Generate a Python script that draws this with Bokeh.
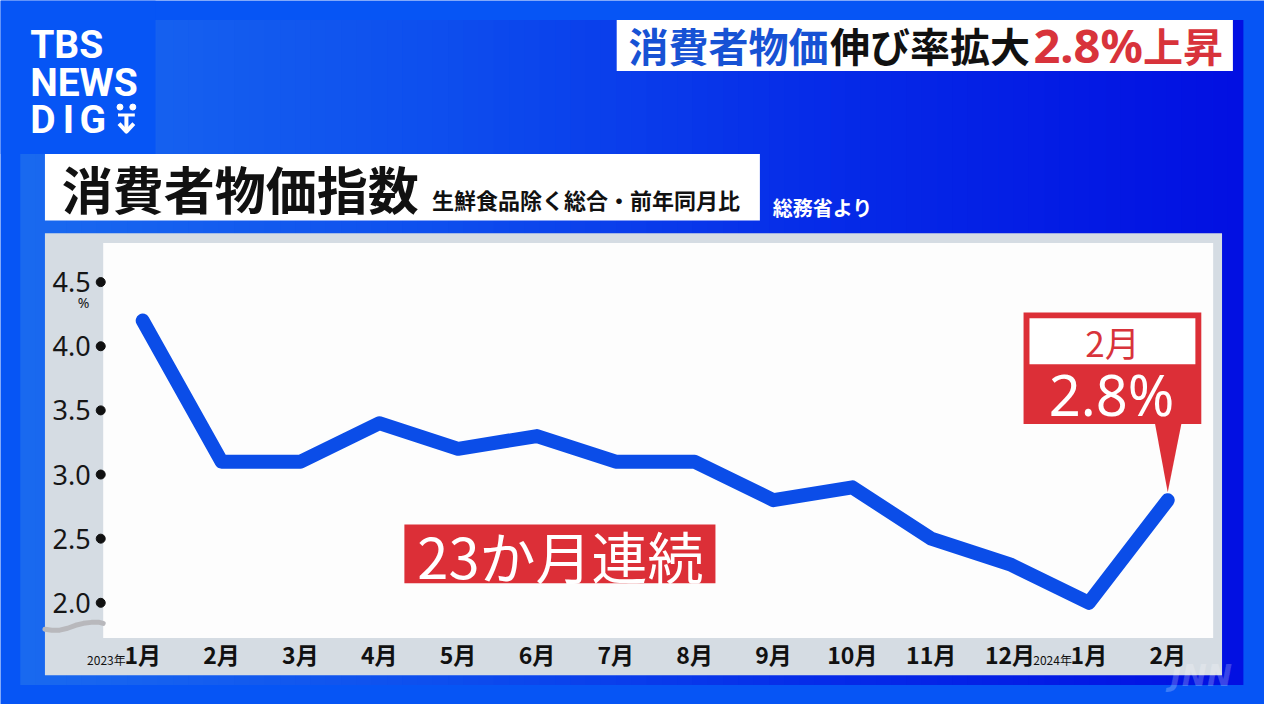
import numpy as np
from bokeh.plotting import figure
from bokeh.models import Range1d, LinearAxis, FixedTicker
from bokeh.core.properties import value
from bokeh.embed import file_html
from bokeh.resources import INLINE

# ---------------- data ----------------
months = ["1月", "2月", "3月", "4月", "5月", "6月", "7月", "8月", "9月",
          "10月", "11月", "12月", "1月", "2月"]
year_prefix_idx = [0, 12]
year_prefix_txt = ["2023年", "2024年"]
cpi = [4.2, 3.1, 3.1, 3.4, 3.2, 3.3, 3.1, 3.1, 2.8, 2.9, 2.5, 2.3, 2.0, 2.8]
y_ticks = [2.0, 2.5, 3.0, 3.5, 4.0, 4.5]
y_tick_labels = ["2.0", "2.5", "3.0", "3.5", "4.0", "4.5"]
headline_blue = "消費者物価"
headline_black = "伸び率拡大"
headline_red_num = "2.8%"
headline_red_txt = "上昇"
chart_title = "消費者物価指数"
chart_subtitle = "生鮮食品除く総合・前年同月比"
source_note = "総務省より"
streak_note = "23か月連続"

# ---------------- pixel <-> data mapping (reference picture coords) ----------------
X0, DX = 144.0, 79.846   # pixel of first month, pixels per month
Y0, DY = 616.0, 131.2    # pixel of value 2.0, pixels per 1.0 pt


def px(X):
    return (X - X0) / DX


def py(Y):
    return 2.0 + (Y0 - Y) / DY


OUTER = "#0655f5"
p = figure(width=1264, height=704,
           x_range=Range1d(px(0), px(1280)), y_range=Range1d(py(720), py(0)),
           output_backend="svg", toolbar_location=None,
           x_axis_location=None, y_axis_location=None,
           min_border=0, outline_line_color=None,
           background_fill_color=OUTER, border_fill_color=OUTER)
for g in p.grid:
    g.visible = False


def box(x1, x2, y1, y2, color, alpha=1.0):
    p.quad(left=px(x1), right=px(x2), top=py(y1), bottom=py(y2),
           fill_color=color, fill_alpha=alpha, line_color=None)


def txt(X, Y, s, size, color, font="Noto Sans CJK JP", style="normal",
        align="left", baseline="middle", alpha=1.0):
    p.text(x=[px(X)], y=[py(Y)], text=[s], text_font=value(font),
           text_font_size=f"{size}px", text_font_style=style,
           text_color=color, text_align=align, text_baseline=baseline,
           text_alpha=alpha)


# ---------------- background panel with horizontal gradient ----------------
n = 80
edges = np.linspace(20, 1258, n + 1)
mids = (edges[:-1] + edges[1:]) / 2
sx = [20, 450, 850, 1258]
cols = []
for m in mids:
    r = np.interp(m, sx, [26, 14, 6, 2])
    gg = np.interp(m, sx, [106, 78, 42, 16])
    b = np.interp(m, sx, [240, 238, 232, 226])
    cols.append("#%02x%02x%02x" % (int(r), int(gg), int(b)))
p.quad(left=[px(e) for e in edges[:-1]], right=[px(e + 0.6) for e in edges[1:]],
       top=py(20), bottom=py(700), fill_color=cols, line_color=None)

# logo block
box(0, 157, 0, 157, OUTER)
LOGO = "Roboto"
txt(30, 46, "TBS", 39, "white", font=LOGO, style="bold")
txt(30, 84, "NEWS", 39, "white", font=LOGO, style="bold")
txt(30, 122, "D", 39, "white", font=LOGO, style="bold")
txt(63, 122, "I", 39, "white", font=LOGO, style="bold")
txt(80, 122, "G", 39, "white", font=LOGO, style="bold")
p.scatter(x=[px(121), px(134)], y=[py(109), py(109)], size=6, color="white")
p.line(x=[px(119), px(136)], y=[py(117), py(117)], line_width=3, line_color="white")
p.line(x=[px(127.5), px(127.5)], y=[py(117), py(134)], line_width=4, line_color="white")
p.line(x=[px(120), px(127.5), px(135)], y=[py(126), py(134), py(126)],
       line_width=4, line_color="white", line_join="round")

# headline box
box(624, 1248, 20, 72, "white")
txt(636, 46, headline_blue, 40, "#1752d4", style="bold")
txt(840, 46, headline_black, 40, "#111111", style="bold")
txt(1046, 46, headline_red_num, 47, "#d8333b", font="Noto Sans", style="bold")
txt(1157, 46, headline_red_txt, 40, "#d8333b", style="bold")

# chart title box
box(45, 769, 157, 225, "white")
txt(62, 192, chart_title, 51, "#111111", style="bold")
txt(437, 203, chart_subtitle, 22, "#111111", style="bold")
txt(782, 212, source_note, 20, "white", style="bold")

# chart panel
box(45, 1237, 238, 690, "#d5dce3")
box(104, 1228, 248, 652, "#fdfdfd")
p.line(x=[px(v) for v in [45, 52, 60, 68, 76, 84, 92, 100, 104]],
       y=[py(v) for v in [643, 644, 644, 642, 639, 637, 636, 636, 637]],
       line_width=5, line_color="#b8b8bc", line_cap="round")

# ---------------- data line ----------------
p.line(x=list(range(len(cpi))), y=cpi, line_width=14, line_color="#0b4de8",
       line_join="round", line_cap="round")

# ---------------- axes ----------------
xaxis = LinearAxis(fixed_location=py(645),
                   ticker=FixedTicker(ticks=list(range(len(months)))),
                   major_label_overrides={i: m for i, m in enumerate(months)},
                   axis_line_color=None, major_tick_line_color=None,
                   minor_tick_line_color=None,
                   major_tick_in=0, major_tick_out=0,
                   minor_tick_in=0, minor_tick_out=0,
                   major_label_standoff=6,
                   major_label_text_font="Noto Sans CJK JP",
                   major_label_text_font_size="23px",
                   major_label_text_font_style="bold",
                   major_label_text_color="#111111")
p.add_layout(xaxis, "below")

yaxis = LinearAxis(fixed_location=px(101.5),
                   ticker=FixedTicker(ticks=y_ticks),
                   major_label_overrides={v: l for v, l in zip(y_ticks, y_tick_labels)},
                   axis_line_color=None, major_tick_line_color=None,
                   minor_tick_line_color=None,
                   major_tick_in=0, major_tick_out=0,
                   minor_tick_in=0, minor_tick_out=0,
                   major_label_standoff=10,
                   major_label_text_font="Noto Sans",
                   major_label_text_font_size="27px",
                   major_label_text_color="#161616")
p.add_layout(yaxis, "left")

p.scatter(x=[px(101.5)] * len(y_ticks), y=y_ticks, size=9, color="#111111")
txt(84, 309, "%", 14, "#161616", font="Noto Sans", align="center")

for i, s in zip(year_prefix_idx, year_prefix_txt):
    p.text(x=[i], y=[py(674)], text=[s], x_offset=-17,
           text_font=value("Noto Sans CJK JP"), text_font_size="12px",
           text_color="#111111", text_align="right", text_baseline="middle")

# ---------------- annotations ----------------
box(409, 724, 536, 596, "#dc2f37")
txt(567, 567, streak_note, 56, "white", align="center")

last = len(cpi) - 1
box(1036, 1216, 319, 433, "#dc2f37")
box(1042, 1210, 325, 372, "white")
p.patch(x=[px(1169), px(1196), last], y=[py(432), py(432), cpi[last] + 8 / DY],
        fill_color="#dc2f37", line_color=None)
txt(1126, 349, months[last], 35, "#d8333b", align="center")
txt(1125, 402, f"{cpi[last]}%", 56, "white", font="Noto Sans", align="center")

# watermark
txt(1216, 690, "JNN", 30, "white", font="DejaVu Sans", style="bold italic",
    align="center", alpha=0.22)

open("out.html", "w").write(file_html(p, INLINE, title="消費者物価指数"))
